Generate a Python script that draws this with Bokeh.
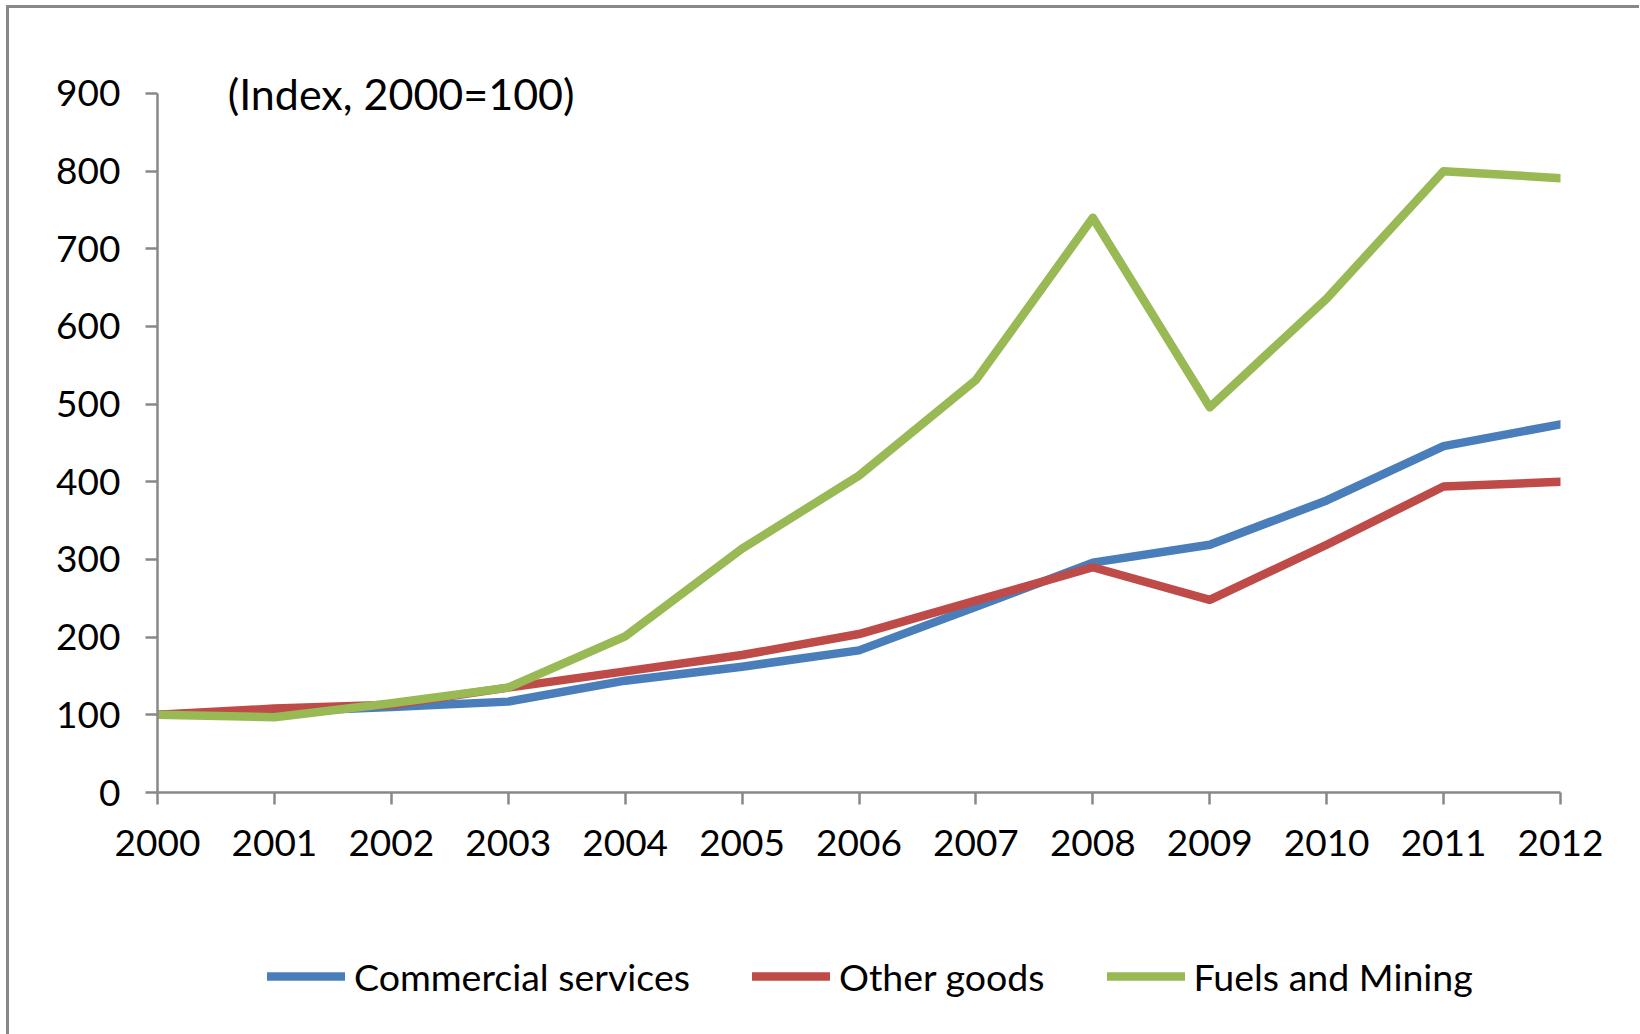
from bokeh.plotting import figure
from bokeh.layouts import column
from bokeh.models import Legend, LegendItem, Label, FixedTicker, Range1d
from bokeh.embed import file_html
from bokeh.resources import INLINE

years = list(range(2000, 2013))
commercial_services = [100, 104, 110, 117, 144, 162, 183, 239, 296, 319, 376, 446, 474]
other_goods = [100, 108, 113, 135, 156, 177, 204, 247, 290, 248, 319, 394, 400]
fuels_and_mining = [100, 97, 115, 135, 201, 314, 408, 531, 740, 496, 636, 800, 791]
y_ticks = [0, 100, 200, 300, 400, 500, 600, 700, 800, 900]
series_names = ["Commercial services", "Other goods", "Fuels and Mining"]
subtitle = "(Index, 2000=100)"

FONT = "Lato"
colors = ["#4A7EBB", "#BE4B48", "#98B954"]
series = [commercial_services, other_goods, fuels_and_mining]
LW = 8.5

# main chart
p = figure(width=1630, height=900, output_backend="svg", toolbar_location=None,
           x_range=Range1d(2000, 2012), y_range=Range1d(0, 960.5),
           min_border_left=148, min_border_right=79, min_border_top=38, min_border_bottom=116)
p.outline_line_color = None
p.xgrid.visible = False
p.ygrid.visible = False
p.background_fill_color = "white"
p.border_fill_color = "white"

for vals, c in zip(series, colors):
    p.line(years, vals, line_color=c, line_width=LW, line_join="round", line_cap="round")

for ax in (p.xaxis[0], p.yaxis[0]):
    ax.axis_line_color = "#888888"
    ax.axis_line_width = 2.5
    ax.major_tick_line_color = "#888888"
    ax.major_tick_line_width = 2.5
    ax.major_tick_out = 12
    ax.major_tick_in = 0
    ax.minor_tick_line_color = None
    ax.major_label_text_font = FONT
    ax.major_label_text_font_size = "37px"
    ax.major_label_text_color = "black"

p.xaxis[0].ticker = FixedTicker(ticks=years)
p.yaxis[0].ticker = FixedTicker(ticks=y_ticks)
p.yaxis[0].bounds = (0, 900)
p.xaxis[0].major_label_standoff = 25
p.yaxis[0].major_label_standoff = 25

lab = Label(x=2000.6, y=900, text=subtitle, text_font=FONT, text_font_size="43px",
            text_baseline="middle", text_align="left", text_color="black")
p.add_layout(lab)

# legend strip (same series, drawn off-frame so only the legend shows)
pl = figure(width=1630, height=126, output_backend="svg", toolbar_location=None,
            x_range=Range1d(0, 1), y_range=Range1d(0, 1),
            min_border_left=0, min_border_right=0, min_border_top=0, min_border_bottom=0)
pl.axis.visible = False
pl.grid.visible = False
pl.outline_line_color = None
pl.background_fill_color = "white"
pl.border_fill_color = "white"
leg_renderers = []
for vals, c in zip(series, colors):
    r = pl.line(years, vals, line_color=c, line_width=LW, line_join="round", line_cap="round")
    leg_renderers.append(r)

legend = Legend(items=[LegendItem(label=n, renderers=[r]) for n, r in zip(series_names, leg_renderers)],
                orientation="horizontal", location=(110, 33), padding=0, margin=0,
                spacing=62, glyph_width=78, glyph_height=50, label_height=50, label_standoff=9,
                label_text_font=FONT, label_text_font_size="37.5px", label_text_color="black",
                border_line_color=None, background_fill_alpha=0)
pl.add_layout(legend, "center")

layout = column(p, pl, spacing=0)
layout.styles = {"margin-left": "6px", "margin-top": "5px",
                 "border-left": "3px solid #888888", "border-top": "3px solid #888888"}

open("out.html", "w").write(file_html(layout, INLINE))
